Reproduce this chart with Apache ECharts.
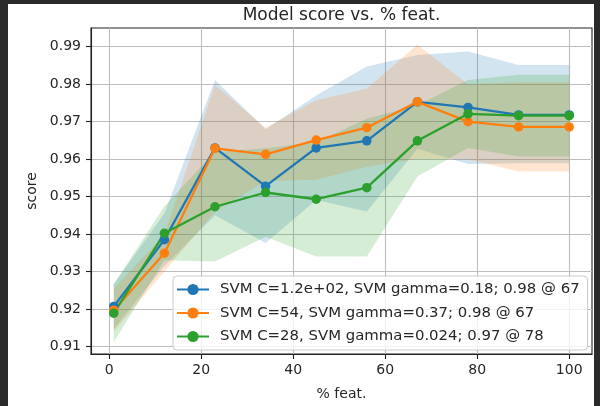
<!DOCTYPE html>
<html>
<head>
<meta charset="utf-8">
<script src="https://cdn.jsdelivr.net/npm/echarts@6/dist/echarts.min.js"></script>
<style>
  html, body { margin: 0; padding: 0; background: #2a2a2a; width: 600px; height: 406px; overflow: hidden; }
  #fig { position: absolute; left: 8px; top: 4px; width: 586px; height: 402px; background: #ffffff; }
</style>
</head>
<body>
<div id="fig"></div>
<script>
// ---- data ----
const featPct = [1, 12, 23, 34, 45, 56, 67, 78, 89, 100];

const blueName = 'SVM C=1.2e+02, SVM gamma=0.18; 0.98 @ 67';
const blueMean = [0.9207, 0.9385, 0.9630, 0.9528, 0.9630, 0.9649, 0.9753, 0.9738, 0.9718, 0.9718];
const blueLow  = [0.9147, 0.9315, 0.9450, 0.9376, 0.9491, 0.9460, 0.9628, 0.9587, 0.9589, 0.9589];
const blueHigh = [0.9267, 0.9455, 0.9811, 0.9680, 0.9770, 0.9847, 0.9878, 0.9887, 0.9851, 0.9851];

const orangeName = 'SVM C=54, SVM gamma=0.37; 0.98 @ 67';
const orangeMean = [0.9197, 0.9349, 0.9629, 0.9613, 0.9651, 0.9684, 0.9753, 0.9700, 0.9686, 0.9686];
const orangeLow  = [0.9140, 0.9300, 0.9460, 0.9542, 0.9545, 0.9580, 0.9601, 0.9600, 0.9567, 0.9567];
const orangeHigh = [0.9254, 0.9398, 0.9798, 0.9684, 0.9757, 0.9788, 0.9905, 0.9800, 0.9805, 0.9805];

const greenName = 'SVM C=28, SVM gamma=0.024; 0.97 @ 78';
const greenMean = [0.9189, 0.9402, 0.9473, 0.9511, 0.9493, 0.9524, 0.9649, 0.9721, 0.9716, 0.9716];
const greenLow  = [0.9112, 0.9330, 0.9327, 0.9393, 0.9340, 0.9340, 0.9554, 0.9630, 0.9607, 0.9607];
const greenHigh = [0.9266, 0.9474, 0.9619, 0.9629, 0.9646, 0.9708, 0.9744, 0.9811, 0.9825, 0.9825];

const xTicks = [0, 20, 40, 60, 80, 100];
const yTicks = [0.91, 0.92, 0.93, 0.94, 0.95, 0.96, 0.97, 0.98, 0.99];

// ---- chart ----
const FONT = 'DejaVu Sans';
const TXT = '#262626';
const chart = echarts.init(document.getElementById('fig'), null, { renderer: 'canvas' });

function band(name, color, low, high) {
  return {
    type: 'custom',
    name: name,
    z: 1,
    silent: true,
    data: featPct.map((x, i) => [x, low[i], high[i]]),
    encode: { x: 0, y: [1, 2] },
    renderItem: function (params, api) {
      if (params.dataIndex !== 0) return null;
      const pts = [];
      for (let i = 0; i < featPct.length; i++) pts.push(api.coord([featPct[i], high[i]]));
      for (let i = featPct.length - 1; i >= 0; i--) pts.push(api.coord([featPct[i], low[i]]));
      return {
        type: 'polygon',
        shape: { points: pts },
        style: { fill: color, opacity: 0.2, stroke: null }
      };
    }
  };
}

function line(name, color, mean) {
  return {
    type: 'line',
    name: name,
    z: 2,
    data: featPct.map((x, i) => [x, mean[i]]),
    color: color,
    symbol: 'circle',
    symbolSize: 9.5,
    showSymbol: true,
    lineStyle: { width: 2.3, color: color },
    itemStyle: { color: color },
    emphasis: { disabled: true }
  };
}

chart.setOption({
  animation: false,
  textStyle: { fontFamily: FONT },
  title: {
    text: 'Model score vs. % feat.',
    left: 333.5,
    top: 3,
    padding: 0,
    textAlign: 'center',
    textStyle: { fontFamily: FONT, fontSize: 17, fontWeight: 'normal', color: TXT }
  },
  grid: {
    left: 83, top: 24, right: 2, bottom: 51,
    show: true, borderColor: '#222', borderWidth: 1.1, backgroundColor: 'transparent',
    containLabel: false
  },
  legend: {
    data: [blueName, orangeName, greenName],
    orient: 'vertical',
    left: 165,
    top: 272,
    padding: [6, 8, 6, 3],
    itemWidth: 32,
    itemHeight: 14,
    itemGap: 8.5,
    backgroundColor: 'rgba(255,255,255,0.8)',
    borderColor: '#cccccc',
    borderWidth: 1,
    borderRadius: 4,
    textStyle: { fontFamily: FONT, fontSize: 14.9, color: TXT, padding: [0, 0, 0, 6] },
    selectedMode: false
  },
  xAxis: {
    type: 'value',
    min: -3.95,
    max: 104.95,
    minInterval: 20,
    maxInterval: 20,
    name: '% feat.',
    nameLocation: 'middle',
    nameGap: 33,
    nameTextStyle: { fontFamily: FONT, fontSize: 14, color: TXT },
    axisLine: { show: true, onZero: false, lineStyle: { color: '#222', width: 1.1 } },
    axisTick: { show: true, length: 5, lineStyle: { color: '#222', width: 1.1 }, customValues: xTicks },
    axisLabel: { fontFamily: FONT, fontSize: 14, color: TXT, margin: 9, customValues: xTicks, formatter: v => String(v) },
    splitLine: { show: true, lineStyle: { color: '#bdbdbd', width: 1.1 } }
  },
  yAxis: {
    type: 'value',
    min: 0.908,
    max: 0.995,
    minInterval: 0.01,
    maxInterval: 0.01,
    name: 'score',
    nameLocation: 'middle',
    nameGap: 50,
    nameTextStyle: { fontFamily: FONT, fontSize: 14, color: TXT },
    axisLine: { show: true, onZero: false, lineStyle: { color: '#222', width: 1.1 } },
    axisTick: { show: true, length: 5, lineStyle: { color: '#222', width: 1.1 }, customValues: yTicks },
    axisLabel: { fontFamily: FONT, fontSize: 14, color: TXT, margin: 10, customValues: yTicks, formatter: v => v.toFixed(2) },
    splitLine: { show: true, lineStyle: { color: '#bdbdbd', width: 1.1 } }
  },
  series: [
    band('band-blue', '#1f77b4', blueLow, blueHigh),
    band('band-orange', '#ff7f0e', orangeLow, orangeHigh),
    band('band-green', '#2ca02c', greenLow, greenHigh),
    line(blueName, '#1f77b4', blueMean),
    line(orangeName, '#ff7f0e', orangeMean),
    line(greenName, '#2ca02c', greenMean)
  ]
});
</script>
</body>
</html>
